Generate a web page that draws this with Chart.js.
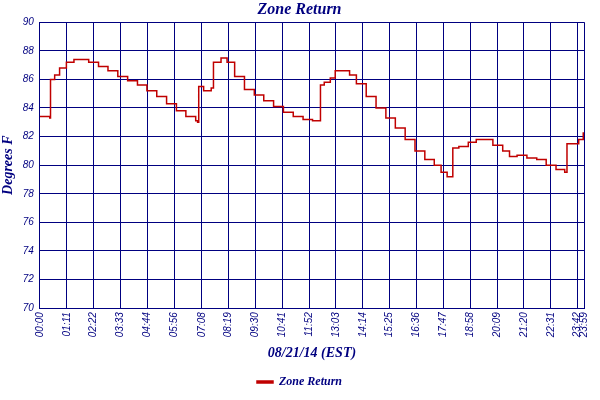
<!DOCTYPE html>
<html><head><meta charset="utf-8">
<script src="https://cdn.jsdelivr.net/npm/chart.js@4"></script>
<style>html,body{margin:0;padding:0;background:#fff}</style>
</head><body><canvas id="c" width="600" height="400"></canvas>
<script>
const minutes=[0,26,28,39,52,70,90,129,155,180,206,232,258,283,309,335,361,386,412,417,420,433,453,456,459,469,479,495,515,541,567,592,618,644,670,696,721,737,742,752,768,781,799,819,837,863,889,915,940,966,992,1018,1043,1061,1077,1087,1092,1108,1133,1154,1172,1198,1224,1242,1262,1288,1314,1339,1365,1388,1394,1412,1425,1437];
const zoneReturn=[83.4,83.3,86.0,86.3,86.8,87.2,87.4,87.2,86.9,86.6,86.2,85.9,85.6,85.2,84.8,84.3,83.8,83.4,83.1,83.0,85.5,85.2,85.4,85.4,87.2,87.2,87.5,87.2,86.2,85.3,84.9,84.5,84.1,83.7,83.4,83.2,83.1,83.1,85.6,85.8,86.1,86.6,86.6,86.3,85.7,84.8,84.0,83.3,82.6,81.8,81.0,80.4,80.0,79.5,79.2,79.2,81.2,81.3,81.6,81.8,81.8,81.4,81.0,80.6,80.7,80.5,80.4,80.0,79.7,79.5,81.5,81.5,81.8,82.3];
const xTickLabels=['00:00','01:11','02:22','03:33','04:44','05:56','07:08','08:19','09:30','10:41','11:52','13:03','14:14','15:25','16:36','17:47','18:58','20:09','21:20','22:31','23:42','23:59'];
const xTickValues=[0,71,142,213,284,356,428,499,570,641,712,783,854,925,996,1067,1138,1209,1280,1351,1422,1439];
const yTicks=[70,72,74,76,78,80,82,84,86,88,90];
const navy='#000080';
const tickFont={family:'Liberation Sans',style:'italic',size:10};
new Chart(document.getElementById('c'),{
 type:'line',
 data:{datasets:[{label:'Zone Return',data:minutes.map((m,i)=>({x:m,y:zoneReturn[i]})),borderColor:'#c00000',backgroundColor:'#c00000',borderWidth:1.5,pointRadius:0,tension:0,stepped:true}]},
 options:{responsive:false,animation:false,devicePixelRatio:1,
  layout:{padding:{right:1,left:0,top:0,bottom:2}},
  plugins:{
   title:{display:true,text:'Zone Return',color:navy,font:{family:'Liberation Serif',style:'italic',weight:'bold',size:16},padding:{top:0,bottom:3}},
   legend:{position:'bottom',labels:{color:navy,boxWidth:16,boxHeight:2,padding:6,font:{family:'Liberation Serif',style:'italic',weight:'bold',size:12}}},
   tooltip:{enabled:false}},
  scales:{
   x:{type:'linear',min:0,max:1439,
    afterBuildTicks:a=>{a.ticks=xTickValues.map(v=>({value:v}));},
    ticks:{color:navy,font:tickFont,maxRotation:90,minRotation:90,autoSkip:false,padding:4,callback:v=>xTickLabels[xTickValues.indexOf(v)]},
    grid:{color:navy,lineWidth:1,drawTicks:false},border:{color:navy},
    title:{display:true,text:'08/21/14 (EST)',color:navy,font:{family:'Liberation Serif',style:'italic',weight:'bold',size:14},padding:{top:4,bottom:8}}},
   y:{min:70,max:90,afterBuildTicks:a=>{a.ticks=yTicks.map(v=>({value:v}));},
    ticks:{color:navy,font:tickFont,padding:6},
    grid:{color:navy,lineWidth:1,drawTicks:false},border:{color:navy},
    title:{display:true,text:'Degrees F',color:navy,font:{family:'Liberation Serif',style:'italic',weight:'bold',size:14},padding:0}}
  }}
});
</script></body></html>
